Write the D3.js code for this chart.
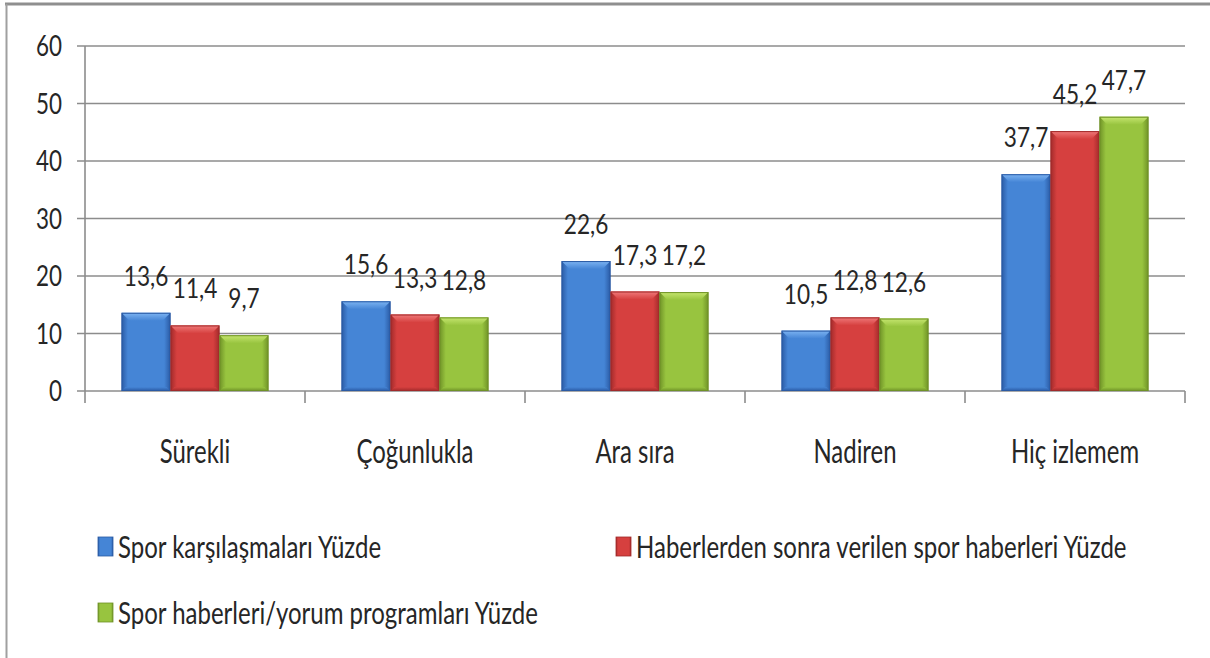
<!DOCTYPE html>
<html>
<head>
<meta charset="utf-8">
<script src="https://cdn.jsdelivr.net/npm/d3@7"></script>
<style>
  body { margin: 0; background: #fff; }
  text { font-family: Lato, "Open Sans", sans-serif; fill: #262626; }
</style>
</head>
<body>
<script>
var categories = ["Sürekli", "Çoğunlukla", "Ara sıra", "Nadiren", "Hiç izlemem"];
var seriesNames = [
    "Spor karşılaşmaları Yüzde",
    "Haberlerden sonra verilen spor haberleri Yüzde",
    "Spor haberleri/yorum programları Yüzde"
];
var sporKarsilasma = [13.6, 15.6, 22.6, 10.5, 37.7];
var haberSonrasi = [11.4, 13.3, 17.3, 12.8, 45.2];
var yorumProg = [9.7, 12.8, 17.2, 12.6, 47.7];
var yTicks = [0, 10, 20, 30, 40, 50, 60];

var W = 1210, H = 658;
var plot = { left: 85, right: 1185, top: 46, bottom: 391 };

// main colour, light, dark per series
var palette = [
    { mid: "#4585d6", light: "#7db4f2", dark: "#2a5aa4" },
    { mid: "#d6403f", light: "#f07a7a", dark: "#a12a2a" },
    { mid: "#98c43f", light: "#c6e670", dark: "#6f9227" }
];

var series = [sporKarsilasma, haberSonrasi, yorumProg];

var svg = d3.select("body").append("svg")
    .attr("width", W)
    .attr("height", H);

// text squeezed horizontally, the original font is a narrow one
function squeeze(sel, fx, fy, sx) {
    sel.attr("transform", function (d, i) {
        return "translate(" + fx(d, i) + "," + fy(d, i) + ") scale(" + sx + ",1)";
    });
}

var defs = svg.append("defs");
palette.forEach(function (c, i) {
    var g = defs.append("linearGradient").attr("id", "side" + i)
        .attr("x1", 0).attr("x2", 1).attr("y1", 0).attr("y2", 0);
    g.append("stop").attr("offset", "0%").attr("stop-color", c.dark);
    g.append("stop").attr("offset", "13%").attr("stop-color", c.mid);
    g.append("stop").attr("offset", "87%").attr("stop-color", c.mid);
    g.append("stop").attr("offset", "100%").attr("stop-color", c.dark);
    var t = defs.append("linearGradient").attr("id", "top" + i)
        .attr("x1", 0).attr("x2", 0).attr("y1", 0).attr("y2", 1);
    t.append("stop").attr("offset", "0%").attr("stop-color", c.light);
    t.append("stop").attr("offset", "100%").attr("stop-color", c.mid);
    var b = defs.append("linearGradient").attr("id", "bot" + i)
        .attr("x1", 0).attr("x2", 0).attr("y1", 0).attr("y2", 1);
    b.append("stop").attr("offset", "0%").attr("stop-color", c.mid);
    b.append("stop").attr("offset", "100%").attr("stop-color", c.dark);
});

// frame
svg.append("line").attr("x1", 5).attr("x2", W).attr("y1", 4).attr("y2", 4)
    .attr("stroke", "#8f8f8f").attr("stroke-width", 3);
svg.append("line").attr("x1", 6.5).attr("x2", 6.5).attr("y1", 4).attr("y2", H)
    .attr("stroke", "#a0a0a0").attr("stroke-width", 2);

var x0 = d3.scaleBand().domain(categories)
    .range([plot.left, plot.right])
    .paddingInner(0.332).paddingOuter(0.166);
var x1 = d3.scaleBand().domain(d3.range(series.length))
    .range([0, x0.bandwidth()]);
var y = d3.scaleLinear().domain([0, 60]).range([plot.bottom, plot.top]);

// grid + y labels
var grid = svg.append("g");
grid.selectAll("line").data(yTicks).enter().append("line")
    .attr("x1", plot.left - 8).attr("x2", plot.right)
    .attr("y1", d => y(d)).attr("y2", d => y(d))
    .attr("stroke", "#8c8c8c").attr("stroke-width", 1.6);
grid.selectAll("text").data(yTicks).enter().append("text")
    .attr("dy", "0.36em")
    .attr("text-anchor", "end")
    .style("font-size", "28px")
    .text(d => d)
    .call(squeeze, () => 62, d => y(d), 0.8);

// axis lines
svg.append("line").attr("x1", plot.left).attr("x2", plot.left)
    .attr("y1", y(60)).attr("y2", plot.bottom + 12)
    .attr("stroke", "#8c8c8c").attr("stroke-width", 1.6);
var bounds = categories.map(c => x0(c) + x0.bandwidth() + x0.step() * 0.166);
svg.selectAll(".xtick").data(bounds).enter().append("line")
    .attr("x1", d => d).attr("x2", d => d)
    .attr("y1", plot.bottom).attr("y2", plot.bottom + 12)
    .attr("stroke", "#8c8c8c").attr("stroke-width", 1.6);

svg.selectAll(".cat").data(categories).enter().append("text")
    .attr("text-anchor", "middle")
    .style("font-size", "33px")
    .text(d => d)
    .call(squeeze, d => x0(d) + x0.bandwidth() / 2, () => 463, 0.725);

// bars
var bw = x1.bandwidth();
var bev = 8;
var groups = svg.selectAll(".grp").data(categories).enter().append("g")
    .attr("transform", d => "translate(" + x0(d) + ",0)");

series.forEach(function (vals, si) {
    var g = groups.append("g");
    g.append("rect")
        .attr("x", x1(si)).attr("width", bw)
        .attr("y", (d, i) => y(vals[i]))
        .attr("height", (d, i) => plot.bottom - y(vals[i]))
        .attr("fill", "url(#side" + si + ")");
    g.append("path")
        .attr("fill", "url(#top" + si + ")")
        .attr("d", function (d, i) {
            var t = y(vals[i]), l = x1(si), r = l + bw;
            return "M" + l + "," + t + "L" + r + "," + t +
                "L" + (r - bev) + "," + (t + bev) + "L" + (l + bev) + "," + (t + bev) + "Z";
        });
    g.append("path")
        .attr("fill", "url(#bot" + si + ")")
        .attr("d", function (d, i) {
            var b = y(0), l = x1(si), r = l + bw, e = 4;
            return "M" + l + "," + b + "L" + r + "," + b +
                "L" + (r - e) + "," + (b - e) + "L" + (l + e) + "," + (b - e) + "Z";
        });
    g.append("rect")
        .attr("x", x1(si) + 0.5).attr("width", bw - 1)
        .attr("y", (d, i) => y(vals[i]) + 0.5)
        .attr("height", (d, i) => plot.bottom - y(vals[i]) - 1)
        .attr("fill", "none").attr("stroke", palette[si].dark).attr("stroke-width", 1);
    g.append("text")
        .attr("text-anchor", "middle")
        .style("font-size", "26px")
        .text((d, i) => String(vals[i]).replace(".", ","))
        .call(squeeze, () => x1(si) + bw / 2, (d, i) => y(vals[i]) - 27, 0.87);
});

// legend
var legendPos = [[98, 547], [616, 547], [98, 613]];
var leg = svg.selectAll(".leg").data(seriesNames).enter().append("g")
    .attr("transform", (d, i) => "translate(" + legendPos[i][0] + "," + legendPos[i][1] + ")");
leg.append("rect").attr("x", 0).attr("y", -10).attr("width", 15).attr("height", 19)
    .attr("fill", (d, i) => "url(#side" + i + ")")
    .attr("stroke", (d, i) => palette[i].dark).attr("stroke-width", 0.8);
leg.append("text").attr("dy", "0.36em")
    .style("font-size", "30px")
    .text(d => d)
    .call(squeeze, () => 20, () => 0, 0.8);
</script>
</body>
</html>
